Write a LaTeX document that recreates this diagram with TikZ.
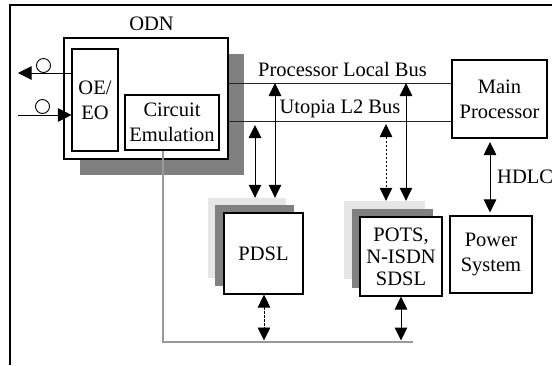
\documentclass[tikz,border=0pt]{standalone}
\usepackage{fontspec}
\setmainfont{Liberation Serif}
\usetikzlibrary{arrows.meta}
\definecolor{shdark}{HTML}{808080}
\definecolor{shlight}{HTML}{E6E6E6}
\definecolor{busgray}{HTML}{999999}
\begin{document}
\begin{tikzpicture}[x=1pt,y=-1pt,
  font=\fontsize{20.5}{25}\selectfont,
  box/.style={draw=black, line width=1.1pt, fill=white, inner sep=0pt, align=center},
  shade1/.style={fill=shlight, inner sep=0pt},
  shade2/.style={fill=shdark, inner sep=0pt},
  lbl/.style={inner sep=0pt},
  busline/.style={line width=1pt, draw=black!85},
  dar/.style={line width=1pt, {Triangle[length=13pt,width=12.5pt]}-{Triangle[length=13pt,width=12.5pt]}},
  sar/.style={line width=1pt, -{Triangle[length=13.5pt,width=13.5pt]}},
  dsh/.style={dash pattern=on 2.5pt off 1.5pt, line width=0.8pt},
  ring/.style={circle, draw, line width=0.9pt, minimum size=14pt, inner sep=0pt}]
\useasboundingbox (0,0) rectangle (553,365);

% outer frame (top and left edge)
\coordinate (fbl) at (10,365);
\coordinate (ftl) at (10,5);
\coordinate (ftr) at (552,5);
\draw[line width=1.2pt] (fbl) -- (ftl) -- (ftr);

% ODN block
\node[lbl, anchor=base] (odnlbl) at (151.5,30) {ODN};
\node[shade2, minimum width=164pt, minimum height=121pt] (odnsh) at (162,114.5) {};
\node[box, minimum width=164pt, minimum height=121pt] (odn) at (146,98.5) {};
\node[box, minimum width=46pt, minimum height=102pt] (oe) at (95,100) {OE/\\EO};
\node[box, minimum width=94pt, minimum height=55pt] (ce) at (172,122.5) {Circuit\\Emulation};

% optical in/out
\coordinate (outL) at (18,73);
\coordinate (inL) at (18,115);
\draw[sar] (oe.west |- outL) -- (outL);
\draw[sar] (inL) -- (oe.west |- inL);
\node[ring] (r1) at (43.5,65.5) {};
\node[ring] (r2) at (42.5,106.5) {};

% main processor and power
\node[box, minimum width=95pt, minimum height=78pt] (main) at (499.5,99) {Main\\Processor};
\node[box, minimum width=82pt, minimum height=77pt] (power) at (491,254.5) {Power\\System};

% buses
\coordinate (lbus) at (0,83);
\coordinate (ubus) at (0,121);
\draw[busline] (odn.east |- lbus) -- (main.west |- lbus);
\draw[busline] (odn.east |- ubus) -- (main.west |- ubus);
\node[lbl, anchor=base] (plb) at (342.5,76) {Processor Local Bus};
\node[lbl, anchor=base] (utl) at (340,113) {Utopia L2 Bus};

% PDSL stack
\node[shade1, minimum width=78pt, minimum height=80pt] (pdslA) at (247,238) {};
\node[shade2, minimum width=79pt, minimum height=81pt] (pdslB) at (254.5,245.5) {};
\node[box, minimum width=79pt, minimum height=81pt] (pdsl) at (263.5,253.5) {PDSL};

% POTS stack
\node[shade1, minimum width=81pt, minimum height=78pt] (potsA) at (384.5,240) {};
\node[shade2, minimum width=81pt, minimum height=79pt] (potsB) at (392.5,248.5) {};
\node[box, minimum width=82pt, minimum height=79pt, font=\fontsize{20.5}{22}\selectfont] (pots) at (401,256.5) {POTS,\\N-ISDN\\SDSL};

% bus to card arrows
\draw[dar, shorten <=4pt] (255,0 |- ubus) -- (255,0 |- pdslA.north);
\draw[dar] (275,0 |- lbus) -- (275,0 |- pdslA.north);
\draw[dar, dsh, shorten <=3pt] (386,0 |- ubus) -- (386,0 |- potsA.north);
\draw[dar] (406,0 |- lbus) -- (406,0 |- potsA.north);

% HDLC
\draw[dar, shorten <=3.5pt, shorten >=3pt] (490,0 |- main.south) -- (490,0 |- power.north);
\node[lbl, anchor=base west] (hdlc) at (497,183) {HDLC};

% lower gray bus
\coordinate (gb) at (163,342);
\coordinate (ge) at (413,342);
\draw[busgray, line width=2pt] (163,0 |- ce.south) -- (gb) -- (ge);
\draw[dar, dsh, shorten >=1.5pt] (264,0 |- pdsl.south) -- (264,0 |- gb);
\draw[dar, shorten >=1.5pt] (401,0 |- pots.south) -- (401,0 |- gb);
\end{tikzpicture}
\end{document}
